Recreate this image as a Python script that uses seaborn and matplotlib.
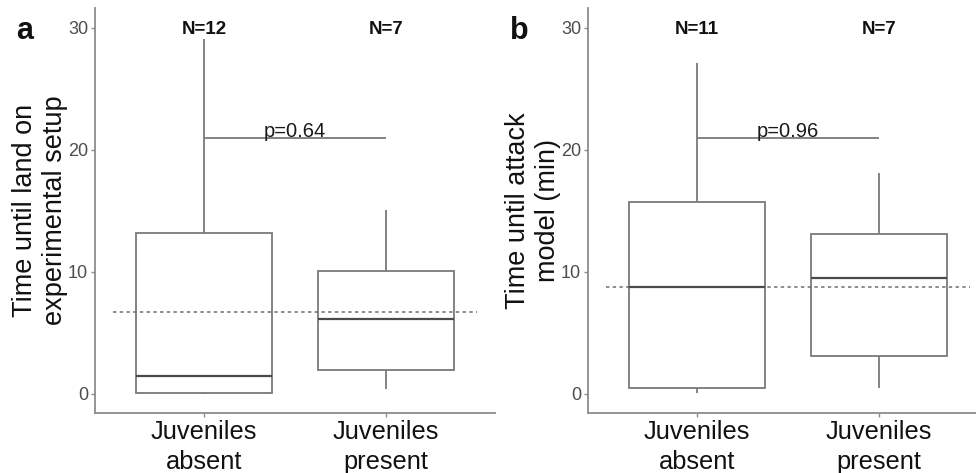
import matplotlib
matplotlib.use("Agg")
import matplotlib.pyplot as plt
import numpy as np
import pandas as pd
import seaborn as sns

sns.set_theme(style="ticks")
plt.rcParams["font.family"] = ["Liberation Sans", "DejaVu Sans"]

# five-number summaries: min, Q1, median, Q3, max
groups = ["Juveniles\nabsent", "Juveniles\npresent"]
land_absent = [0.0, 0.1, 1.5, 13.2, 29.1]
land_present = [0.4, 2.0, 6.1, 10.1, 15.1]
attack_absent = [0.1, 0.5, 8.75, 15.7, 27.1]
attack_present = [0.5, 3.1, 9.5, 13.1, 18.1]
land_mean = 6.7
attack_mean = 8.8
land_n = [12, 7]
attack_n = [11, 7]
land_p = "p=0.64"
attack_p = "p=0.96"
bracket_y = 21.0
n_label_y = 30

line_grey = "#7a7a7a"
axis_grey = "#8c8c8c"


def long_frame(absent, present):
    return pd.DataFrame({
        "group": [groups[0]] * len(absent) + [groups[1]] * len(present),
        "value": list(absent) + list(present),
    })


def draw_panel(ax, df, mean, counts, ptext, ylabel, letter, letter_x):
    sns.boxplot(data=df, x="group", y="value", ax=ax, whis=(0, 100), width=0.75,
                color="white", linecolor=line_grey, linewidth=1.3, showcaps=False,
                fliersize=0, medianprops={"color": "#4a4a4a", "linewidth": 1.6})
    ax.hlines(mean, -0.5, 1.5, colors="#6e6e6e", linestyles=(0, (2.2, 2.2)), linewidth=1.1)
    ax.hlines(bracket_y, 0, 1, colors=line_grey, linewidth=1.3)
    ax.text(0.5, bracket_y + 0.05, ptext, ha="center", va="baseline", fontsize=14.5, color="#1a1a1a")
    for i, n in enumerate(counts):
        ax.text(i, n_label_y - 0.15, f"N={n}", ha="center", va="center", fontsize=13.5,
                fontweight="bold", color="#111111")
    ax.set_xlim(-0.6, 1.6)
    ax.set_ylim(-1.55, 31.6)
    ax.set_yticks([0, 10, 20, 30])
    ax.set_xlabel("")
    ax.set_ylabel(ylabel, fontsize=19.5, color="#111111", linespacing=1.2)
    ax.yaxis.label.set_va("center")
    ax.yaxis.set_label_coords(-0.137, 0.5)
    sns.despine(ax=ax)
    for side in ("left", "bottom"):
        ax.spines[side].set_color(axis_grey)
        ax.spines[side].set_linewidth(1.3)
    ax.tick_params(axis="both", length=3, width=1, color=axis_grey)
    ax.tick_params(axis="y", labelsize=13, labelcolor="#4d4d4d", pad=2)
    ax.tick_params(axis="x", labelsize=18.3, labelcolor="#111111", pad=2)
    for lab in ax.get_xticklabels():
        lab.set_linespacing(1.3)
    ax.figure.text(letter_x, 0.934, letter, ha="center", va="center", fontsize=22,
                   fontweight="bold", color="#111111")


fig = plt.figure(figsize=(9.76, 4.73), dpi=100)
ax_a = fig.add_axes([0.0973, 0.127, 0.4098, 0.856])
ax_b = fig.add_axes([0.6025, 0.127, 0.4098, 0.856])

draw_panel(ax_a, long_frame(land_absent, land_present), land_mean, land_n, land_p,
           "Time until land on\nexperimental setup", "a", 0.025)
draw_panel(ax_b, long_frame(attack_absent, attack_present), attack_mean, attack_n, attack_p,
           "Time until attack\nmodel (min)", "b", 0.532)

fig.savefig("out.png", dpi=100)
